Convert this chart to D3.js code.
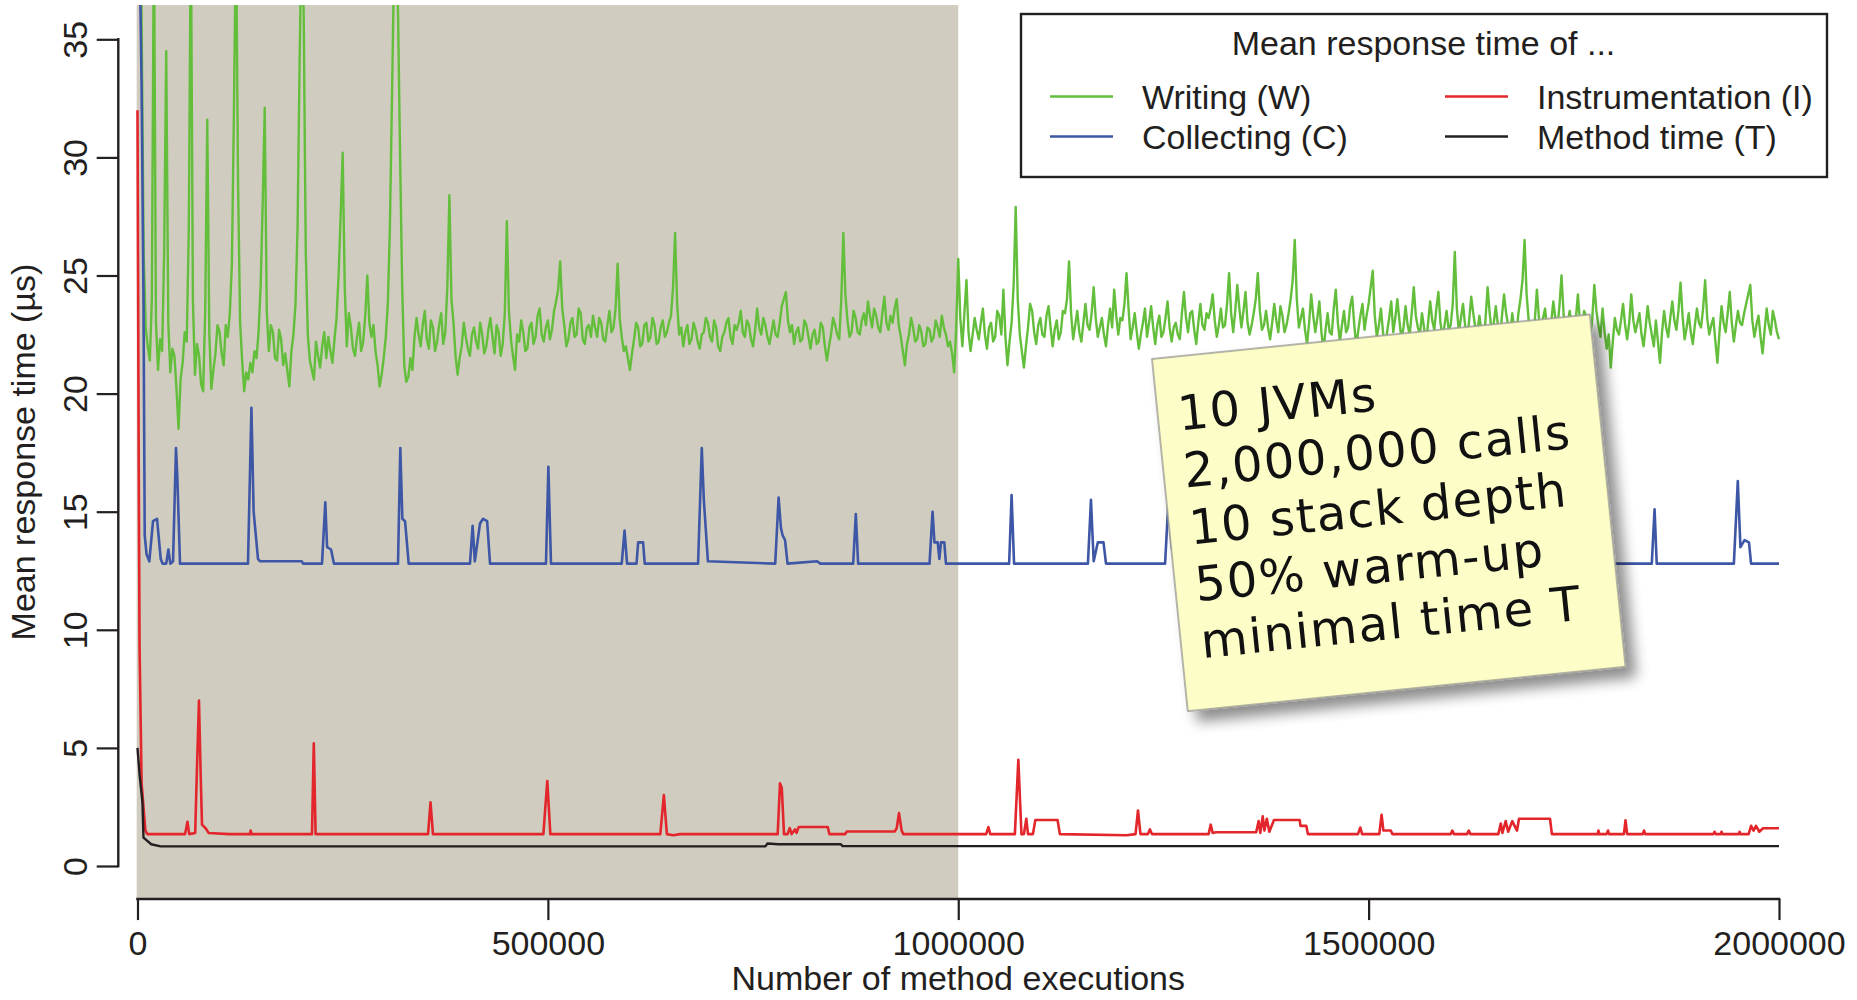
<!DOCTYPE html>
<html><head><meta charset="utf-8">
<script src="https://cdn.jsdelivr.net/npm/d3@7"></script>
<style>body{margin:0;background:#fff} svg{display:block}</style>
</head><body>
<svg id="chart" width="1857" height="1000"></svg>
<script>
// ---------- DATA ----------
const xTicks = [0, 500000, 1000000, 1500000, 2000000];
const yTicks = [0, 5, 10, 15, 20, 25, 30, 35];
const seriesNames = ["Writing (W)", "Collecting (C)", "Instrumentation (I)", "Method time (T)"];
const legendTitle = "Mean response time of ...";
const xTitle = "Number of method executions";
const yTitle = "Mean response time (µs)";
const warmupEnd = 1000000;
const noteLines = ["10 JVMs", "2,000,000 calls", "10 stack depth", "50% warm-up", "minimal time T"];

// Writing (W): one value every 2500 executions
const writingStep = 2500;
const writing = [
45,42,36,26,22.8,22.0,21.4,24,40,23,21.0,22.3,21.8,26,34.5,23,20.9,21.9,21.6,20.2,
18.5,20.6,21.3,22.6,22.2,27,40,24,20.8,22.1,21.6,20.4,20.1,23.5,31.6,22.5,20.2,21.0,21.7,22.9,
22.6,21.7,21.2,22.9,22.4,23.4,25.5,32,40,29,23.0,21.4,20.1,20.9,20.6,21.3,20.9,21.8,21.5,22.6,
24.5,28,32.1,23.5,21.8,22.9,22.6,21.5,21.4,22.7,22.3,21.2,21.7,21.0,20.3,21.8,22.5,23.8,27,34,
40,36,26,22.5,21.4,21.0,20.6,22.2,21.6,21.1,22.0,22.6,21.5,22.4,21.8,21.3,22.3,23.2,25.0,27.5,
30.2,24.5,22.0,23.4,22.8,21.9,21.6,22.4,23.0,21.8,22.2,23.3,25.0,23.0,22.4,22.9,21.8,21.2,20.3,20.8,
21.5,22.4,23.8,27,32.4,38,40,36,29.9,24.5,21.2,20.5,20.7,21.5,21.0,22.4,23.2,22.5,22.0,22.9,
23.5,22.3,21.9,23.1,22.8,21.8,22.2,22.9,23.4,22.1,22.6,24.5,28.4,24,23.0,21.6,20.8,21.5,22.0,23.0,
22.4,21.9,21.6,22.5,22.8,22.2,21.9,23.0,22.5,21.7,22.0,22.7,23.2,22.4,21.7,22.9,22.6,21.6,22.1,23.4,
27.3,23.5,22.3,21.6,21.0,22.5,22.2,23.1,22.6,21.8,21.9,22.8,23.0,22.1,22.4,23.3,23.6,22.5,22.2,22.8,
23.1,22.3,22.7,23.5,23.9,24.4,25.6,23.6,22.9,22.0,22.3,23.0,23.2,22.4,22.5,23.6,23.4,22.3,22.1,22.8,
22.9,22.4,23.3,22.8,22.4,23.2,23.0,22.3,22.2,22.9,23.5,22.6,22.8,23.6,25.5,23.2,22.4,21.8,22.0,21.5,
21.0,21.7,22.3,23.0,22.8,22.0,22.1,22.9,23.0,22.2,22.4,23.2,22.9,22.1,22.2,22.8,23.1,22.4,22.6,23.0,
23.3,24.5,26.8,23.8,22.5,22.8,22.0,22.6,22.9,22.1,22.3,23.0,22.7,22.2,21.9,22.5,22.6,23.2,23.0,22.4,
22.2,23.1,22.8,22.0,21.8,22.4,22.6,23.0,23.2,22.4,22.1,22.9,22.7,23.0,23.5,22.6,22.4,23.1,22.9,22.3,
22.0,22.7,23.6,22.8,22.5,23.2,22.9,22.4,22.1,22.6,23.1,22.5,22.4,23.0,23.7,24.0,24.3,23.1,22.6,22.9,
22.1,22.6,22.8,22.2,22.3,23.1,22.9,22.4,21.9,22.5,22.7,22.1,22.2,23.0,22.8,22.0,21.4,22.0,22.5,23.2,
22.9,22.5,22.3,24.0,26.8,24.2,23.1,22.4,22.6,23.5,23.2,22.6,22.5,23.1,23.4,22.9,23.9,23.3,22.8,23.6,
23.3,22.8,22.6,23.4,24.1,23.0,22.7,23.3,23.0,23.6,24.0,22.9,22.4,21.8,21.2,22.1,22.5,23.2,22.8,22.2,
22.3,22.9,22.6,22.0,22.1,22.8,22.7,22.2,22.4,23.1,22.8,22.4,23.3,22.8,22.5,22.0,22.2,21.7,20.9,22.8,
25.7,23.2,22.0,23.4,24.8,22.6,21.8,22.5,23.2,22.7,22.3,23.0,23.6,22.5,21.9,22.8,23.0,22.2,22.4,23.5,
23.3,22.5,24.4,22.4,21.2,22.2,23.0,24.6,27.9,24.0,22.5,21.8,21.1,22.0,22.8,23.8,23.5,22.6,22.1,22.9,
23.2,22.5,22.4,23.3,23.7,22.8,22.0,22.7,23.1,22.3,22.6,23.5,23.4,24.0,25.6,23.4,22.3,22.9,23.5,22.6,
22.2,23.0,23.8,22.9,22.7,23.4,24.5,23.2,22.4,22.8,23.2,22.5,22.0,22.9,23.6,22.8,24.4,23.3,22.5,23.2,
23.1,23.8,25.1,23.6,22.3,22.8,23.4,22.6,21.9,22.5,23.0,23.6,22.4,23.0,23.7,22.8,22.1,22.9,23.3,22.4,
22.6,23.2,23.9,22.8,22.2,22.8,23.0,22.5,22.3,23.4,24.3,23.2,22.6,23.4,23.5,22.7,22.1,23.0,23.8,22.9,
22.7,23.4,23.2,23.6,24.2,23.1,22.4,22.9,23.6,22.8,22.9,23.8,25.1,23.4,22.6,23.5,24.6,23.6,22.8,23.5,
24.3,23.0,22.5,22.9,23.4,24.0,25.1,23.5,22.7,22.9,23.5,22.8,22.3,23.0,23.8,23.1,22.6,23.7,23.3,22.6,
22.9,23.4,24.0,24.8,26.5,24.0,22.8,23.2,23.6,22.7,22.1,23.0,24.2,23.3,22.6,23.2,23.9,22.6,21.8,22.7,
23.4,22.6,22.5,23.6,24.4,23.0,22.2,22.9,23.5,22.6,22.8,23.7,24.1,22.9,22.0,22.7,23.3,23.8,22.7,23.3,
23.8,24.5,25.2,23.3,22.4,22.9,23.6,22.6,21.9,22.6,23.2,23.9,22.6,23.2,24.0,23.1,22.3,22.8,23.7,22.9,
22.5,23.4,24.5,23.3,22.8,22.5,23.4,22.8,22.1,23.0,23.9,23.1,22.7,23.6,24.3,23.0,22.4,22.9,23.5,22.7,
22.9,23.8,26.0,23.6,22.6,23.2,23.8,22.9,22.2,23.1,24.1,23.4,22.8,22.6,23.3,22.6,22.0,23.2,24.5,23.4,
22.6,23.0,23.7,22.9,22.3,23.3,24.2,23.4,22.9,22.5,23.4,22.7,22.5,23.4,24.0,24.8,26.5,24.2,23.1,22.7,
22.4,23.1,24.4,23.2,22.7,23.2,23.6,22.7,22.2,23.0,23.9,23.2,22.8,23.7,25.0,23.4,22.5,23.0,23.5,22.8,
22.1,23.2,24.2,23.0,22.7,23.5,23.3,22.8,22.4,23.2,24.6,23.5,22.9,22.4,23.6,22.6,21.9,22.5,21.1,22.2,
23.2,22.7,22.5,23.1,23.8,22.9,22.3,23.0,24.2,23.1,22.6,23.0,23.4,22.5,22.0,22.8,23.7,23.0,22.5,22.0,
23.1,22.2,21.3,22.6,23.5,22.8,22.4,23.2,23.9,23.1,22.7,23.5,24.7,23.3,22.3,22.8,23.4,22.6,22.1,22.9,
23.6,23.0,22.8,23.6,24.8,23.2,22.5,22.9,23.2,22.2,21.3,22.6,23.7,23.0,22.6,23.4,24.3,23.0,22.2,22.9,
23.5,23.0,22.9,23.4,23.8,24.2,24.6,23.1,22.4,22.9,23.3,22.4,21.7,22.7,23.6,22.9,22.5,23.5,23.1,22.6,
22.3];

// Collecting (C): [executions in thousands, µs]
const collecting = [[0,45],[5,33],[7.3,24],[8.8,14],[11,13.2],[14.4,12.9],[18.9,14.6],[23.8,14.7],[28.3,13],[30.6,12.8],[35,12.8],[37.6,13.4],[40,12.8],[43.3,12.9],[46.9,17.7],[48.5,16.5],[51.8,12.8],
[134.6,12.8],[138.8,19.4],[141.5,15],[146.8,13.0],[149.3,12.9],[200,12.9],[202,12.8],
[224.8,12.8],[228.8,15.4],[231,13.5],[235.8,13.4],[239.4,12.8],
[317.4,12.8],[320.2,17.7],[322.7,14.7],[326,14.6],[330.4,12.8],
[405.1,12.8],[408.3,14.4],[411,12.9],[417.3,14.5],[421,14.7],[426,14.6],[429.5,12.8],
[497.7,12.8],[500.6,16.9],[503.8,12.8],
[590,12.8],[593.4,14.2],[596.5,12.8],[608,12.8],[610,13.7],[616,13.7],[618,12.8],
[683,12.8],[687.5,17.7],[690,15.5],[695,12.9],
[777,12.8],[781.1,15.6],[784,14.3],[786,14.0],[789,13.8],[792,12.8],[828,12.9],[832,12.8],
[872,12.8],[875.2,14.9],[878,12.8],
[965,12.8],[968.7,15.0],[971,13.7],[975,13.7],[977,13.0],[979,13.7],[983,13.7],[985,12.8],
[1062,12.8],[1065,15.7],[1068,12.8],
[1158,12.8],[1161.7,15.5],[1165,12.9],[1170,13.7],[1177,13.7],[1180,12.8],
[1252,12.8],[1256,15.4],[1260,13.5],[1266,12.8],
[1845,12.8],[1848.4,15.1],[1851,12.8],
[1945,12.8],[1949.8,16.3],[1953,13.5],[1958,13.8],[1963.4,13.7],[1966,12.8],[2000,12.8]];

// Instrumentation (I): [executions in thousands, µs]
const instrumentation = [[0,32.0],[1.5,17],[2.5,9.3],[5,3.5],[9.6,1.5],[12,1.35],[58,1.35],[60.9,1.87],[63,1.35],
[70.3,1.4],[72.5,4.2],[74.9,7.0],[77,3.8],[78.6,1.75],[83,1.6],[86.6,1.4],[112,1.35],[137,1.35],[137.9,1.5],[139,1.35],
[212.6,1.35],[214.8,5.2],[217,1.35],[354,1.35],[357,2.7],[360,1.35],[494.5,1.35],[499.3,3.6],[503,1.35],
[637,1.35],[641.3,3.0],[645,1.35],[653,1.3],[661,1.35],[780,1.35],[782.8,3.5],[785,3.3],[787.7,1.35],
[792,1.35],[794.7,1.6],[797,1.35],[801,1.55],[803,1.4],[805.6,1.65],[841,1.65],[843,1.35],[862,1.35],[864.3,1.46],
[922.5,1.46],[925,1.6],[927.8,2.24],[931,1.5],[933,1.35],[1034,1.35],[1036.7,1.65],[1039,1.35],
[1069,1.35],[1073.2,4.5],[1077,1.35],[1080,1.35],[1082.9,2.0],[1085,1.35],[1091,1.35],[1093.9,1.95],[1121,1.95],[1123.8,1.35],
[1205,1.3],[1216,1.35],[1219,2.35],[1222,1.35],[1231,1.35],[1233.6,1.55],[1236,1.35],
[1305,1.35],[1307.6,1.75],[1310,1.4],[1314,1.43],[1363,1.43],[1366,1.9],[1368,1.4],[1371,2.1],[1373,1.5],[1376,2.0],[1379,1.45],
[1384.7,1.95],[1416,1.95],[1417,1.7],[1424,1.7],[1426,1.35],[1487,1.35],[1489.9,1.63],[1492,1.35],
[1513,1.35],[1515.8,2.17],[1518,1.5],[1527,1.5],[1529,1.35],[1600,1.35],[1602,1.5],[1604,1.35],[1620,1.35],[1622,1.5],[1624,1.35],
[1658,1.35],[1661,1.8],[1663,1.4],[1667,1.9],[1670,1.45],[1675,1.9],[1680.8,1.5],[1683.2,2.0],[1721,2.0],[1723.3,1.35],
[1779,1.35],[1780,1.5],[1781,1.35],[1790,1.35],[1791.7,1.5],[1793,1.35],[1811,1.35],[1813,1.93],[1815,1.35],
[1834,1.35],[1835.6,1.5],[1837,1.35],[1920,1.35],[1921.5,1.45],[1923,1.35],[1929,1.35],[1930,1.45],[1931,1.35],
[1951,1.35],[1952,1.45],[1953,1.35],[1963,1.35],[1966,1.7],[1969,1.5],[1972,1.7],[1976,1.45],[1980.5,1.6],[2000,1.6]];

// Method time (T): [executions in thousands, µs]
const methodTime = [[0,5.0],[2.7,3.8],[6.0,2.7],[7.3,1.2],[16.7,0.92],[28.3,0.83],[765,0.83],[767.5,0.95],[781,0.92],[857,0.92],[859,0.84],[2000,0.84]];

const colors = ["#63BE3B", "#3E56A6", "#E2262B", "#231F20"];

// ---------- DRAW ----------
const svg = d3.select("#chart");
const font = "'Liberation Sans', Arial, Helvetica, sans-serif";
const ink = "#231F20";

const x = d3.scaleLinear().domain([0, 2000000]).range([137.5, 1779]);
const y = d3.scaleLinear().domain([0, 35]).range([866, 39.3]);
const plotTop = y(36.45), plotBottom = y(-1.4), plotLeft = 118.3, plotRight = 1798;

const defs = svg.append("defs");
defs.append("clipPath").attr("id", "plotClip").append("rect")
  .attr("x", plotLeft).attr("y", plotTop).attr("width", plotRight - plotLeft).attr("height", plotBottom - plotTop);
const shadow = defs.append("filter").attr("id", "noteShadow").attr("x", "-20%").attr("y", "-20%").attr("width", "150%").attr("height", "150%");
shadow.append("feGaussianBlur").attr("in", "SourceAlpha").attr("stdDeviation", 7).attr("result", "b");
shadow.append("feOffset").attr("in", "b").attr("dx", 9).attr("dy", 11).attr("result", "o");
shadow.append("feComponentTransfer").attr("in", "o").attr("result", "s")
  .append("feFuncA").attr("type", "linear").attr("slope", 0.45);
const merge = shadow.append("feMerge");
merge.append("feMergeNode").attr("in", "s");
merge.append("feMergeNode").attr("in", "SourceGraphic");

// warm-up background
svg.append("rect")
  .attr("x", x(-1000)).attr("y", plotTop)
  .attr("width", x(warmupEnd) - x(-1000)).attr("height", plotBottom - plotTop)
  .attr("fill", "#D0CDC0");

// lines
const gLines = svg.append("g").attr("clip-path", "url(#plotClip)");
const lineW = d3.line().x((d, i) => x(i * writingStep)).y(d => y(d));
const lineP = d3.line().x(d => x(d[0] * 1000)).y(d => y(d[1]));
gLines.append("path").datum(writing).attr("d", lineW)
  .attr("fill", "none").attr("stroke", colors[0]).attr("stroke-width", 2.4).attr("stroke-linejoin", "round");
gLines.append("path").datum(collecting).attr("d", lineP)
  .attr("fill", "none").attr("stroke", colors[1]).attr("stroke-width", 2.6).attr("stroke-linejoin", "round");
gLines.append("path").datum(instrumentation).attr("d", lineP)
  .attr("fill", "none").attr("stroke", colors[2]).attr("stroke-width", 2.6).attr("stroke-linejoin", "round");
gLines.append("path").datum(methodTime).attr("d", lineP)
  .attr("fill", "none").attr("stroke", colors[3]).attr("stroke-width", 2.4).attr("stroke-linejoin", "round");

// y axis
const gy = svg.append("g").attr("transform", `translate(${plotLeft},0)`)
  .call(d3.axisLeft(y).tickValues(yTicks).tickSize(21.6).tickFormat(d3.format("d")));
gy.select(".domain").remove();
gy.selectAll(".tick line").attr("stroke", ink).attr("stroke-width", 2.2);
gy.selectAll(".tick text")
  .attr("x", null).attr("dy", null)
  .attr("transform", `translate(${87 - plotLeft},0) rotate(-90)`)
  .attr("text-anchor", "middle")
  .attr("font-family", font).attr("font-size", 34).attr("fill", ink);
svg.append("line").attr("x1", plotLeft).attr("x2", plotLeft).attr("y1", y(35)).attr("y2", y(0))
  .attr("stroke", ink).attr("stroke-width", 2.4).attr("stroke-linecap", "square");

// x axis
const gx = svg.append("g").attr("transform", `translate(0,${plotBottom})`)
  .call(d3.axisBottom(x).tickValues(xTicks).tickSize(21).tickFormat(d3.format("d")));
gx.select(".domain").remove();
gx.selectAll(".tick line").attr("stroke", ink).attr("stroke-width", 2.2);
gx.selectAll(".tick text").attr("dy", null).attr("y", 955 - plotBottom)
  .attr("font-family", font).attr("font-size", 34).attr("fill", ink);
svg.append("line").attr("x1", x(0)).attr("x2", x(2000000)).attr("y1", plotBottom).attr("y2", plotBottom)
  .attr("stroke", ink).attr("stroke-width", 2.6).attr("stroke-linecap", "square");

// axis titles
svg.append("text").attr("x", (x(0) + x(2000000)) / 2).attr("y", 990)
  .attr("text-anchor", "middle").attr("font-family", font).attr("font-size", 34).attr("fill", ink)
  .text(xTitle);
svg.append("text").attr("transform", `translate(35,${(plotTop + plotBottom) / 2}) rotate(-90)`)
  .attr("text-anchor", "middle").attr("font-family", font).attr("font-size", 34).attr("fill", ink)
  .text(yTitle);

// legend
const lg = svg.append("g");
lg.append("rect").attr("x", 1021).attr("y", 14).attr("width", 806).attr("height", 163)
  .attr("fill", "#fff").attr("stroke", ink).attr("stroke-width", 2.4);
lg.append("text").attr("x", 1423.5).attr("y", 55).attr("text-anchor", "middle")
  .attr("font-family", font).attr("font-size", 34).attr("fill", ink).text(legendTitle);
const legendCols = [1050, 1445];
seriesNames.forEach((name, i) => {
  const col = i < 2 ? 0 : 1, row = i % 2;
  const lx = legendCols[col], ly = 96.5 + row * 40;
  lg.append("line").attr("x1", lx).attr("x2", lx + 63).attr("y1", ly).attr("y2", ly)
    .attr("stroke", colors[i]).attr("stroke-width", 2.6);
  lg.append("text").attr("x", lx + 92).attr("y", ly + 12)
    .attr("font-family", font).attr("font-size", 34).attr("fill", ink).text(name);
});

// sticky note
const note = svg.append("g").attr("transform", "translate(1152,359) rotate(-5.8)");
note.append("rect").attr("x", 0).attr("y", 0).attr("width", 440).attr("height", 354)
  .attr("fill", "#FDFDC8").attr("stroke", "#9C9C94").attr("stroke-width", 1.5)
  .attr("filter", "url(#noteShadow)");
note.selectAll("text.note").data(noteLines).enter().append("text")
  .attr("class", "note")
  .attr("x", 20).attr("y", (d, i) => 74 + i * 57.2)
  .attr("font-family", "'DejaVu Sans', sans-serif").attr("font-size", 48)
  .attr("letter-spacing", 1.5).attr("fill", "#111")
  .text(d => d);
</script>
</body></html>
